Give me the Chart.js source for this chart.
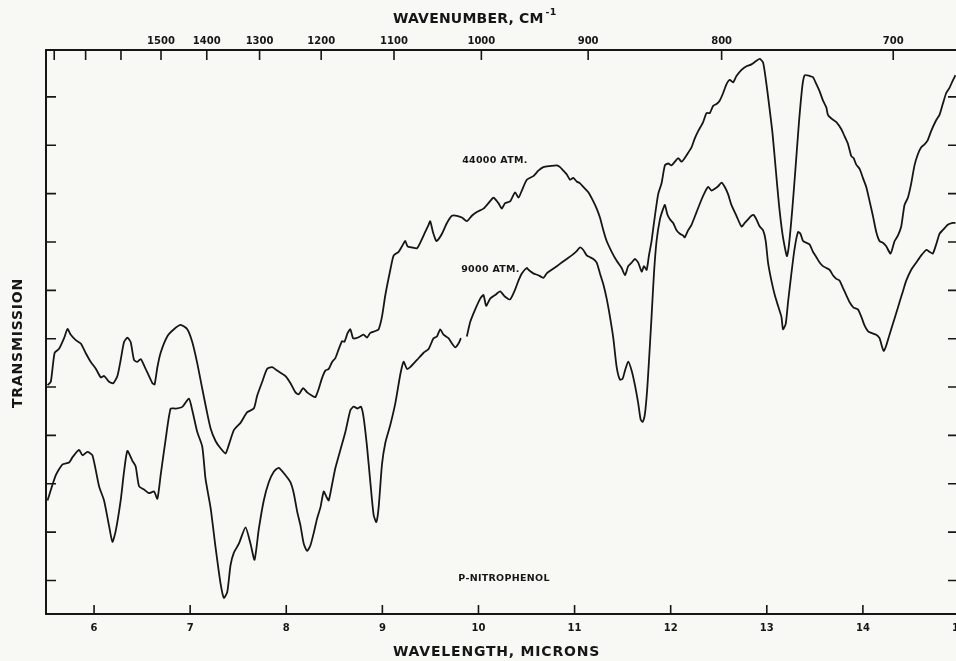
<!DOCTYPE html>
<html>
<head>
<meta charset="utf-8">
<script src="https://cdn.jsdelivr.net/npm/chart.js@4/dist/chart.umd.min.js"></script>
<style>
  html, body { margin: 0; padding: 0; background: #f8f8f5; overflow: hidden; }
  #wrap { width: 966px; height: 661px; }
</style>
</head>
<body>
<div id="wrap"><canvas id="spectrum" width="966" height="661"></canvas></div>
<script>
// Infrared transmission of p-nitrophenol at two pressures.
// Wavelength in microns; transmission on an arbitrary 0-100 chart scale.

const wavelength44k = [
  5.516, 5.55, 5.59, 5.636, 5.688, 5.724, 5.758, 5.81, 5.862, 5.914, 5.966, 6.018, 6.07, 6.104, 6.156, 6.2,
  6.243, 6.277, 6.312, 6.347, 6.381, 6.416, 6.45, 6.485, 6.52, 6.571, 6.607, 6.63, 6.659, 6.693, 6.763, 6.831,
  6.901, 6.97, 7.022, 7.074, 7.126, 7.171, 7.212, 7.264, 7.316, 7.368, 7.403, 7.455, 7.524, 7.594, 7.662, 7.697,
  7.75, 7.8, 7.853, 7.905, 7.992, 8.044, 8.096, 8.13, 8.176, 8.217, 8.269, 8.303, 8.338, 8.373, 8.407, 8.442,
  8.477, 8.511, 8.546, 8.581, 8.605, 8.639, 8.667, 8.695, 8.729, 8.771, 8.805, 8.84, 8.875, 8.927, 8.961, 8.996,
  9.031, 9.083, 9.117, 9.169, 9.204, 9.238, 9.262, 9.308, 9.36, 9.394, 9.446, 9.481, 9.498, 9.526, 9.561, 9.585,
  9.62, 9.672, 9.724, 9.776, 9.828, 9.879, 9.931, 9.983, 10.052, 10.104, 10.156, 10.208, 10.243, 10.277, 10.329,
  10.381, 10.416, 10.451, 10.503, 10.571, 10.623, 10.675, 10.745, 10.815, 10.849, 10.883, 10.918, 10.953, 10.987,
  11.022, 11.057, 11.091, 11.143, 11.195, 11.23, 11.264, 11.299, 11.334, 11.386, 11.438, 11.49, 11.524, 11.558,
  11.594, 11.628, 11.662, 11.698, 11.722, 11.75, 11.774, 11.801, 11.836, 11.87, 11.905, 11.94, 11.974, 12.009,
  12.044, 12.078, 12.113, 12.146, 12.182, 12.217, 12.251, 12.286, 12.338, 12.373, 12.407, 12.442, 12.477, 12.511,
  12.545, 12.58, 12.615, 12.649, 12.684, 12.737, 12.789, 12.84, 12.892, 12.927, 12.961, 12.989, 13.023, 13.059,
  13.093, 13.127, 13.163, 13.197, 13.21, 13.231, 13.266, 13.301, 13.335, 13.37, 13.394, 13.446, 13.48, 13.516,
  13.55, 13.584, 13.62, 13.636, 13.672, 13.724, 13.776, 13.81, 13.844, 13.88, 13.903, 13.931, 13.966, 14.0,
  14.035, 14.07, 14.104, 14.139, 14.173, 14.208, 14.243, 14.288, 14.33, 14.364, 14.399, 14.433, 14.468, 14.503,
  14.537, 14.571, 14.607, 14.641, 14.675, 14.71, 14.762, 14.797, 14.831, 14.866, 14.901, 14.935, 14.963
];
const transmission44k = [
  40.4, 41.1, 47.1, 47.9, 50.1, 52.0, 50.8, 49.7, 49.0, 47.0, 45.2, 43.8, 42.0, 42.3, 41.1, 40.8,
  42.3, 45.6, 49.3, 50.2, 49.3, 45.6, 45.2, 45.8, 44.5, 42.3, 40.8, 40.55, 44.1, 47.1, 50.5, 51.95,
  52.85, 51.95, 49.3, 44.9, 39.65, 35.2, 31.5, 28.85, 27.35, 26.25, 28.1, 31.1, 32.6, 34.8, 35.55, 38.2,
  41.1, 43.75, 44.1, 43.4, 42.26, 40.8, 38.9, 38.5, 39.8, 38.9, 38.2, 37.9, 39.65, 41.9, 43.4, 43.75,
  45.2, 46.0, 47.85, 49.5, 49.35, 51.2, 51.95, 50.1, 50.1, 50.5, 50.85, 50.24, 51.2, 51.6, 51.95, 54.56,
  59.03, 64.25, 67.2, 67.97, 69.1, 70.2, 69.1, 68.86, 68.7, 69.83, 72.07, 73.56, 74.3, 72.07, 70.2, 70.58,
  71.7, 73.93, 75.42, 75.42, 75.05, 74.3, 75.42, 76.2, 76.9, 78.03, 79.15, 78.03, 76.9, 78.03, 78.4,
  80.27, 79.15, 80.64, 82.87, 83.62, 84.74, 85.48, 85.7, 85.85, 85.48, 84.74, 84.0, 82.87, 83.25,
  82.5, 82.13, 81.38, 80.27, 78.4, 76.9, 75.05, 72.44, 70.2, 67.97, 66.11, 64.62, 63.13, 65.0,
  65.74, 66.48, 65.74, 63.87, 65.0, 64.25, 67.23, 70.2, 75.42, 79.9, 82.13, 85.85, 86.23, 85.85,
  86.6, 87.35, 86.6, 87.35, 88.46, 89.58, 91.44, 92.93, 94.8, 96.66, 96.66, 98.15, 98.52, 99.27,
  100.76, 102.6, 103.5, 103.0, 104.3, 105.6, 106.35, 106.72, 107.46, 107.84, 107.1, 103.74, 98.52, 92.56,
  85.1, 77.66, 71.7, 67.97, 67.08, 69.46, 76.9, 85.85, 94.8, 102.25, 104.48, 104.33, 104.11, 102.62,
  101.13, 99.27, 97.78, 96.29, 95.54, 94.8, 93.3, 91.82, 90.33, 87.72, 87.35, 86.0, 85.1, 83.25,
  81.38, 78.4, 75.42, 72.07, 70.2, 69.83, 69.1, 67.6, 70.2, 71.3, 73.2, 77.66, 79.15, 82.13,
  85.85, 88.1, 89.58, 90.18, 91.07, 92.93, 95.17, 96.29, 98.52, 100.76, 101.88, 103.37, 104.48
];

// the 9000 atm trace has a short pen break just below 10 microns (null)
const wavelength9k = [
  5.516, 5.602, 5.672, 5.74, 5.776, 5.844, 5.88, 5.931, 5.983, 6.052, 6.104, 6.156, 6.191, 6.225, 6.277, 6.312,
  6.347, 6.399, 6.433, 6.468, 6.52, 6.571, 6.624, 6.659, 6.693, 6.745, 6.797, 6.849, 6.918, 6.987, 7.022, 7.074,
  7.126, 7.16, 7.212, 7.264, 7.316, 7.351, 7.386, 7.42, 7.455, 7.507, 7.576, 7.628, 7.67, 7.714, 7.766, 7.818,
  7.87, 7.922, 7.992, 8.044, 8.078, 8.113, 8.148, 8.182, 8.217, 8.251, 8.286, 8.321, 8.355, 8.39, 8.418, 8.442,
  8.477, 8.511, 8.563, 8.615, 8.667, 8.701, 8.743, 8.778, 8.805, 8.84, 8.875, 8.909, 8.937, 8.961, 8.996, 9.031,
  9.083, 9.135, 9.187, 9.221, 9.256, 9.29, 9.36, 9.429, 9.481, 9.532, 9.568, 9.602, 9.636, 9.688, 9.724, 9.758,
  9.792, 9.817, 9.85, 9.879, 9.914, 9.966, 10.018, 10.052, 10.08, 10.122, 10.174, 10.226, 10.277, 10.329,
  10.381, 10.416, 10.451, 10.503, 10.52, 10.571, 10.623, 10.675, 10.71, 10.762, 10.815, 10.866, 10.918, 10.97,
  11.022, 11.057, 11.091, 11.126, 11.161, 11.195, 11.23, 11.264, 11.299, 11.334, 11.368, 11.403, 11.438, 11.472,
  11.5, 11.524, 11.558, 11.594, 11.628, 11.662, 11.687, 11.708, 11.732, 11.756, 11.777, 11.801, 11.826, 11.853,
  11.888, 11.922, 11.94, 11.964, 11.992, 12.026, 12.061, 12.096, 12.13, 12.146, 12.182, 12.217, 12.269, 12.321,
  12.355, 12.39, 12.425, 12.459, 12.494, 12.529, 12.563, 12.597, 12.632, 12.684, 12.737, 12.771, 12.805, 12.84,
  12.864, 12.892, 12.927, 12.961, 12.989, 13.013, 13.048, 13.083, 13.117, 13.152, 13.169, 13.197, 13.221, 13.256,
  13.29, 13.325, 13.35, 13.377, 13.412, 13.446, 13.48, 13.516, 13.55, 13.584, 13.62, 13.654, 13.688, 13.724,
  13.758, 13.792, 13.827, 13.862, 13.903, 13.948, 13.983, 14.018, 14.052, 14.087, 14.139, 14.173, 14.201, 14.218,
  14.243, 14.277, 14.312, 14.347, 14.381, 14.416, 14.451, 14.503, 14.555, 14.607, 14.659, 14.693, 14.727, 14.762,
  14.797, 14.831, 14.883, 14.935, 14.963
];
const transmission9k = [
  16.55, 21.77, 24.0, 24.4, 25.5, 27.0, 25.9, 26.6, 25.9, 19.5, 16.55, 11.3, 8.0, 10.2, 16.55, 22.5,
  26.8, 24.75, 23.6, 19.5, 18.8, 18.05, 18.4, 16.9, 21.77, 29.2, 35.55, 35.55, 35.9, 37.6, 35.2, 30.7,
  27.7, 21.0, 15.1, 6.9, -0.6, -3.6, -2.4, 3.15, 5.75, 7.6, 11.0, 7.6, 4.3, 10.6, 16.55, 20.3,
  22.5, 23.3, 21.77, 20.3, 18.05, 14.3, 11.34, 7.6, 6.12, 7.24, 9.85, 12.83, 15.07, 18.4, 17.3, 16.55,
  19.9, 23.26, 27.0, 30.7, 35.2, 35.93, 35.56, 35.93, 33.7, 27.73, 20.3, 13.58, 12.08, 15.07, 24.0, 28.48,
  32.2, 36.67, 42.64, 45.24, 43.75, 44.13, 45.6, 47.1, 47.85, 50.1, 50.46, 51.95, 50.83, 50.1, 49.0, 48.2,
  49.0, 50.1, null, 50.46, 53.44, 56.05, 58.28, 59.03, 56.8, 58.28, 59.03, 59.77, 58.66, 58.13,
  60.15, 62.0, 63.5, 64.62, 64.25, 63.5, 63.13, 62.6, 63.5, 64.25, 65.0, 65.74, 66.48, 67.23,
  68.12, 68.87, 68.34, 67.23, 66.85, 66.48, 65.74, 63.5, 61.27, 58.28, 54.56, 50.1, 44.13, 41.52,
  41.74, 43.38, 45.24, 43.38, 40.4, 36.67, 33.32, 32.8, 34.44, 39.65, 46.36, 54.56, 63.5, 70.2,
  74.68, 76.9, 77.66, 75.8, 74.68, 73.93, 72.44, 71.7, 71.32, 70.95, 72.44, 73.56, 76.17, 78.78,
  80.27, 81.38, 80.64, 81.0, 81.53, 82.28, 81.38, 79.9, 77.66, 75.42, 73.19, 73.93, 74.68, 75.42,
  75.57, 74.68, 73.19, 72.44, 70.2, 65.74, 62.0, 59.03, 56.8, 54.56, 51.95, 53.07, 57.54, 63.5,
  68.72, 72.07, 71.7, 70.2, 69.83, 69.46, 67.97, 66.85, 65.74, 65.0, 64.62, 64.25, 63.13, 62.38,
  62.0, 60.52, 59.03, 57.54, 56.42, 56.05, 54.56, 52.7, 51.58, 51.2, 50.83, 50.1, 48.23, 47.48,
  48.6, 50.83, 53.07, 55.3, 57.54, 59.77, 62.0, 64.25, 65.74, 67.23, 68.34, 67.97, 67.6, 69.46,
  71.7, 72.44, 73.56, 73.93, 73.93
];

// Axis tick values
const micronTicks = [6, 7, 8, 9, 10, 11, 12, 13, 14, 15];
const wavenumberTicks = [1800, 1700, 1600, 1500, 1400, 1300, 1200, 1100, 1000, 900, 800, 700];
const wavenumberLabelled = [1500, 1400, 1300, 1200, 1100, 1000, 900, 800, 700];
const transmissionTicks = [0, 10, 20, 30, 40, 50, 60, 70, 80, 90, 100];

// Curve labels: [text, wavelength, transmission]
const curveNotes = [
  ['44000 ATM.', 9.83, 86.8],
  ['9000 ATM.', 9.82, 64.2],
  ['P-NITROPHENOL', 9.79, 0.5]
];

const INK = '#161616';
const FONT = '"DejaVu Sans", "Liberation Sans", sans-serif';

const toPoints = (xs, ys) => xs.map((x, i) => ({ x: x, y: ys[i] }));

// fixed axis box sizes so the plot frame sits at 46..959 x 50..614
const fixBox = (size) => (s) => {
  if (s.isHorizontal()) { s.height = size; } else { s.width = size; }
  s.paddingLeft = 0; s.paddingRight = 0; s.paddingTop = 0; s.paddingBottom = 0;
};

// Inward tick marks on all four sides, axis titles and curve labels.
const chartFrame = {
  id: 'chartFrame',
  afterDraw(chart) {
    const { ctx, chartArea: a, scales } = chart;
    ctx.save();
    ctx.strokeStyle = INK;
    ctx.lineWidth = 1.6;
    ctx.beginPath();
    scales.x.ticks.forEach(t => {
      const px = scales.x.getPixelForValue(t.value);
      ctx.moveTo(px, a.bottom); ctx.lineTo(px, a.bottom - 9);
    });
    scales.xTop.ticks.forEach(t => {
      const px = scales.xTop.getPixelForValue(t.value);
      ctx.moveTo(px, a.top); ctx.lineTo(px, a.top + 10);
    });
    scales.y.ticks.forEach(t => {
      const py = scales.y.getPixelForValue(t.value);
      ctx.moveTo(a.left, py); ctx.lineTo(a.left + 10, py);
      ctx.moveTo(a.right, py); ctx.lineTo(a.right - 11, py);
    });
    ctx.stroke();

    ctx.fillStyle = INK;
    ctx.textBaseline = 'middle';
    ctx.textAlign = 'left';

    // axis titles
    ctx.font = 'bold 14px ' + FONT;
    ctx.letterSpacing = '0.2px';
    const top = 'WAVENUMBER, CM';
    ctx.fillText(top, 393, 19);
    const w = ctx.measureText(top).width;
    ctx.font = 'bold 9.5px ' + FONT;
    ctx.fillText('-1', 393 + w + 2, 13);

    ctx.letterSpacing = '0.8px';
    ctx.font = 'bold 14px ' + FONT;
    ctx.fillText('WAVELENGTH, MICRONS', 393, 652);

    ctx.save();
    ctx.translate(18, 343);
    ctx.rotate(-Math.PI / 2);
    ctx.textAlign = 'center';
    ctx.fillText('TRANSMISSION', 0, 0);
    ctx.restore();

    // curve labels
    ctx.letterSpacing = '0.3px';
    ctx.font = 'bold 9.5px ' + FONT;
    ctx.textAlign = 'left';
    curveNotes.forEach(([txt, wl, tr]) => {
      ctx.fillText(txt, scales.x.getPixelForValue(wl), scales.y.getPixelForValue(tr));
    });
    ctx.restore();
  }
};

const paper = {
  id: 'paper',
  beforeDraw(chart) {
    const { ctx, width, height } = chart;
    ctx.save();
    ctx.fillStyle = '#f8f8f5';
    ctx.fillRect(0, 0, width, height);
    ctx.restore();
  }
};

const lineStyle = {
  borderColor: INK,
  borderWidth: 1.8,
  pointRadius: 0,
  tension: 0.2,
  spanGaps: false,
  fill: false
};

new Chart(document.getElementById('spectrum'), {
  type: 'line',
  data: {
    datasets: [
      Object.assign({ label: '44000 ATM.', data: toPoints(wavelength44k, transmission44k) }, lineStyle),
      Object.assign({ label: '9000 ATM.', data: toPoints(wavelength9k, transmission9k) }, lineStyle)
    ]
  },
  options: {
    responsive: false,
    animation: false,
    events: [],
    layout: { padding: { right: 7 } },
    plugins: { legend: { display: false }, tooltip: { enabled: false } },
    scales: {
      x: {
        type: 'linear',
        position: 'bottom',
        min: 5.5,
        max: 15,
        afterBuildTicks: s => { s.ticks = micronTicks.map(v => ({ value: v })); },
        afterFit: fixBox(47),
        grid: { drawOnChartArea: false, drawTicks: false },
        border: { display: true, color: INK, width: 2 },
        ticks: {
          autoSkip: false, maxRotation: 0, padding: 8,
          color: INK, font: { family: FONT, size: 10, weight: 'bold' },
          callback: v => String(v)
        }
      },
      xTop: {
        type: 'linear',
        position: 'top',
        min: 5.47,
        max: 14.97,
        afterBuildTicks: s => { s.ticks = wavenumberTicks.map(n => ({ value: 10000 / n })); },
        afterFit: fixBox(50),
        grid: { drawOnChartArea: false, drawTicks: false },
        border: { display: true, color: INK, width: 2 },
        ticks: {
          autoSkip: false, maxRotation: 0, padding: 3,
          color: INK, font: { family: FONT, size: 10, weight: 'bold' },
          callback: v => {
            const n = Math.round(10000 / v);
            return wavenumberLabelled.includes(n) ? String(n) : '';
          }
        }
      },
      y: {
        type: 'linear',
        position: 'left',
        min: -6.93,
        max: 109.7,
        afterBuildTicks: s => { s.ticks = transmissionTicks.map(v => ({ value: v })); },
        afterFit: fixBox(46),
        grid: { drawOnChartArea: false, drawTicks: false },
        border: { display: true, color: INK, width: 2 },
        ticks: { display: false }
      }
    }
  },
  plugins: [paper, chartFrame]
});
</script>
</body>
</html>
